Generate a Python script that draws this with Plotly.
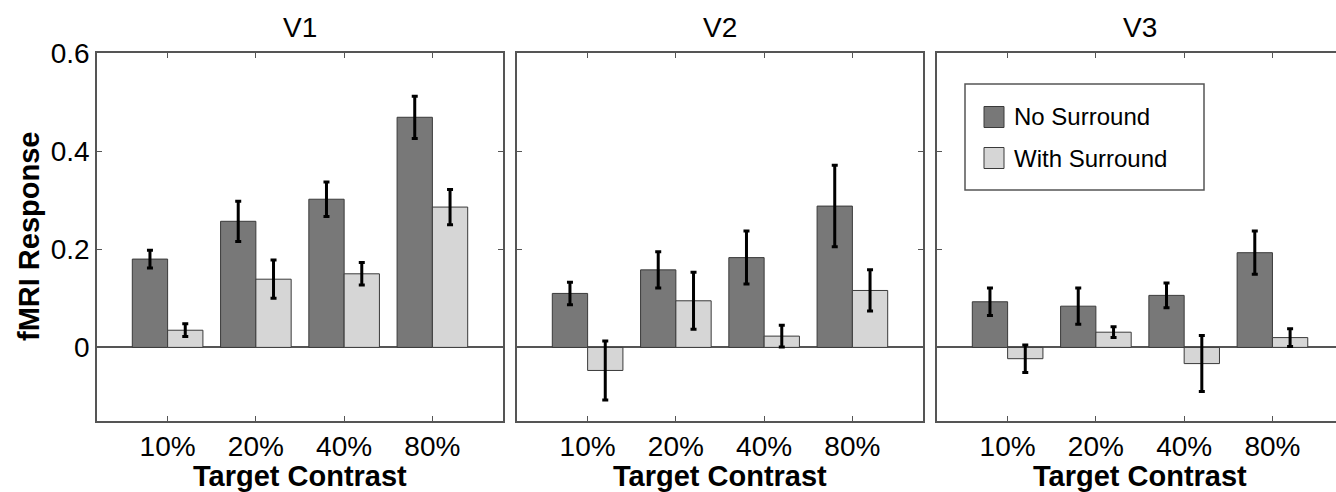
import plotly.graph_objects as go

contrasts = ["10%", "20%", "40%", "80%"]
areas = ["V1", "V2", "V3"]

no_surround = {
    "V1": [0.180, 0.257, 0.302, 0.469],
    "V2": [0.110, 0.158, 0.183, 0.288],
    "V3": [0.093, 0.084, 0.106, 0.193],
}
no_surround_err = {
    "V1": [0.018, 0.041, 0.035, 0.043],
    "V2": [0.023, 0.037, 0.054, 0.083],
    "V3": [0.028, 0.037, 0.025, 0.044],
}
with_surround = {
    "V1": [0.035, 0.139, 0.150, 0.286],
    "V2": [-0.047, 0.095, 0.023, 0.116],
    "V3": [-0.023, 0.031, -0.033, 0.020],
}
with_surround_err = {
    "V1": [0.013, 0.039, 0.023, 0.036],
    "V2": [0.060, 0.058, 0.022, 0.042],
    "V3": [0.028, 0.011, 0.057, 0.018],
}

y_ticks = [0, 0.2, 0.4, 0.6]
y_tick_text = ["0", "0.2", "0.4", "0.6"]

DARK = "#787878"
LIGHT = "#d6d6d6"
EDGE = "#3a3a3a"
AXC = "#555555"
FONT = "Liberation Sans, Arial, Helvetica, sans-serif"

W, H = 1336, 492
domains = [[97 / W, 503 / W], [517 / W, 923 / W], [937 / W, 1.0]]
ydom = [(H - 421) / H, (H - 53) / H]
xranges = [[-0.8, 3.8], [-0.8, 3.8], [-0.8, 3.72]]

fig = go.Figure()
for i, area in enumerate(areas):
    xa = "x" if i == 0 else f"x{i+1}"
    ya = "y" if i == 0 else f"y{i+1}"
    fig.add_trace(go.Bar(
        x=contrasts, y=no_surround[area], name="No Surround",
        marker=dict(color=DARK, line=dict(color=EDGE, width=1)),
        error_y=dict(type="data", array=no_surround_err[area], color="black", thickness=3, width=3),
        xaxis=xa, yaxis=ya, showlegend=False,
    ))
    fig.add_trace(go.Bar(
        x=contrasts, y=with_surround[area], name="With Surround",
        marker=dict(color=LIGHT, line=dict(color=EDGE, width=1)),
        error_y=dict(type="data", array=with_surround_err[area], color="black", thickness=3, width=3),
        xaxis=xa, yaxis=ya, showlegend=False,
    ))

layout = dict(
    width=W, height=H,
    margin=dict(l=0, r=0, t=0, b=0, autoexpand=False),
    paper_bgcolor="white", plot_bgcolor="white",
    barmode="group", bargap=0.2, bargroupgap=0,
    font=dict(family=FONT, color="black"),
    showlegend=False,
)
for i in range(3):
    sx = "" if i == 0 else str(i + 1)
    layout[f"xaxis{sx}"] = dict(
        domain=domains[i], range=xranges[i], type="category", automargin=False,
        anchor=f"y{sx}", showline=True, linecolor=AXC, linewidth=1.5,
        mirror="ticks", ticks="inside", ticklen=5, tickcolor=AXC,
        tickfont=dict(size=28, family=FONT, color="black"),
        showgrid=False, zeroline=False, fixedrange=True,
    )
    layout[f"yaxis{sx}"] = dict(
        domain=ydom, range=[-0.15, 0.6], anchor=f"x{sx}", automargin=False,
        showline=True, linecolor=AXC, linewidth=1.5,
        mirror=("ticks" if i < 2 else False), ticks="inside", ticklen=5, tickcolor=AXC,
        tickvals=y_ticks, ticktext=y_tick_text,
        showticklabels=(i == 0),
        tickfont=dict(size=28, family=FONT, color="black"),
        showgrid=False, zeroline=True, zerolinecolor=AXC, zerolinewidth=1.5,
        fixedrange=True,
    )
fig.update_layout(**layout)

# Panel titles and axis titles
for i, area in enumerate(areas):
    xd = "x domain" if i == 0 else f"x{i+1} domain"
    cx = 0.5 if i < 2 else (406 / 2) / 399
    fig.add_annotation(text=area, xref=xd, yref="paper", x=cx, y=(H - 28) / H,
                       showarrow=False, font=dict(size=28, family=FONT, color="black"),
                       xanchor="center", yanchor="middle")
    fig.add_annotation(text="<b>Target Contrast</b>", xref=xd, yref="paper", x=cx, y=-0.004,
                       showarrow=False, font=dict(size=29, family=FONT, color="black"),
                       xanchor="center", yanchor="bottom")

fig.add_annotation(text="<b>fMRI Response</b>", xref="paper", yref="paper",
                   x=29 / W, y=(H - 237) / H, textangle=-90, showarrow=False,
                   font=dict(size=29, family=FONT, color="black"),
                   xanchor="center", yanchor="middle")

# Custom legend in panel 3
lx0, lx1 = (965 - 937) / 399, (1204 - 937) / 399
ly_top = (421 - 84) / 368
ly_bot = (421 - 190) / 368
fig.add_shape(type="rect", xref="x3 domain", yref="y3 domain",
              x0=lx0, x1=lx1, y0=ly_bot, y1=ly_top,
              line=dict(color=AXC, width=1.5), fillcolor="white", layer="above")
legend_items = [("No Surround", DARK, 117), ("With Surround", LIGHT, 158)]
for label, col, yc in legend_items:
    yy = (421 - yc) / 368
    fig.add_shape(type="rect", xref="x3 domain", yref="y3 domain",
                  x0=(984 - 937) / 399, x1=(1004 - 937) / 399,
                  y0=yy - 10.5 / 368, y1=yy + 10.5 / 368,
                  line=dict(color=EDGE, width=1), fillcolor=col, layer="above")
    fig.add_annotation(text=label, xref="x3 domain", yref="y3 domain",
                       x=(1012 - 937) / 399, y=yy, showarrow=False,
                       xanchor="left", yanchor="middle",
                       font=dict(size=24, family=FONT, color="black"))

fig.write_html("out.html", config={"displayModeBar": False},
               post_script="document.body.style.margin='0';document.body.style.overflow='hidden';")
